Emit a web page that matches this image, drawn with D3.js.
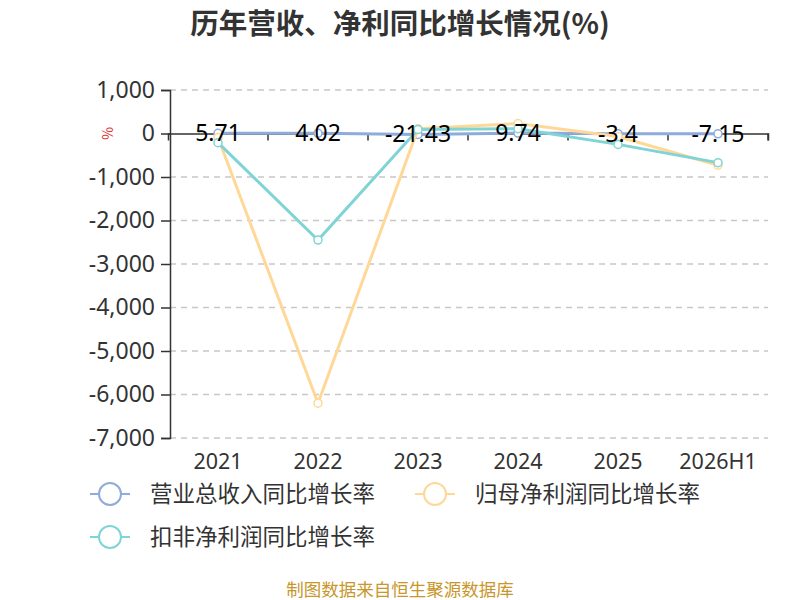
<!DOCTYPE html>
<html>
<head>
<meta charset="utf-8">
<script src="https://cdn.jsdelivr.net/npm/d3@7"></script>
<style>
body { margin: 0; background: #fff; }
text { font-family: "Noto Sans CJK SC", "Noto Sans", sans-serif; }
</style>
</head>
<body>
<svg id="chart"></svg>
<script>
var years = ["2021", "2022", "2023", "2024", "2025", "2026H1"]
var revenueGrowth = [5.71, 4.02, -21.43, 9.74, -3.4, -7.15]
var parentProfitGrowth = [-90, -6200, 110, 230, -70, -730]
var deductedProfitGrowth = [-210, -2450, 90, 110, -250, -670]
var yTicks = [1000, 0, -1000, -2000, -3000, -4000, -5000, -6000, -7000]
var seriesNames = ["营业总收入同比增长率", "归母净利润同比增长率", "扣非净利润同比增长率"]
var seriesColors = ["#8eabdb", "#ffd898", "#80d4d5"]

var screen = {width: 800, height: 600}
var margins = {left: 170, right: 32, top: 90, bottom: 162}

var graph = {
    width: screen.width - margins.left - margins.right,
    height: screen.height - margins.top - margins.bottom
}

var svg = d3.select("#chart")
    .attr("width", screen.width)
    .attr("height", screen.height)

var xScale = d3.scaleBand()
    .domain(years)
    .range([margins.left - 2, margins.left + graph.width])

var yScale = d3.scaleLinear()
    .domain([-7000, 1000])
    .range([margins.top + graph.height, margins.top])

var commaFormat = d3.format(",")

//title
svg.append("text")
    .text("历年营收、净利同比增长情况(%)")
    .attr("x", 400)
    .attr("y", 34)
    .attr("text-anchor", "middle")
    .attr("font-size", 28.5)
    .attr("font-weight", "bold")
    .attr("fill", "#333")

//grid
svg.append("g")
    .selectAll("line")
    .data(yTicks.filter(function(d) { return d != 0 }))
    .enter()
    .append("line")
    .attr("x1", margins.left)
    .attr("x2", margins.left + graph.width)
    .attr("y1", function(d) { return yScale(d) })
    .attr("y2", function(d) { return yScale(d) })
    .attr("stroke", "#c8c8c8")
    .attr("stroke-width", 1.5)
    .attr("stroke-dasharray", "6,5")

//y axis
var yAxis = d3.axisLeft(yScale)
    .tickValues(yTicks)
    .tickFormat(function(d) { return commaFormat(d).replace("\u2212", "-") })
    .tickSize(9)
    .tickPadding(6)

var yG = svg.append("g")
    .attr("transform", "translate(" + margins.left + ",0)")
    .call(yAxis)
yG.select(".domain").attr("stroke", "#333").attr("stroke-width", 1.5)
yG.selectAll(".tick line").attr("stroke", "#333").attr("stroke-width", 1.5)
yG.selectAll("text")
    .attr("font-size", 23)
    .attr("fill", "#333")
    .style("font-family", "'Noto Sans', sans-serif")

//axis name
svg.append("text")
    .text("%")
    .attr("transform", "translate(102," + yScale(0) + ") rotate(90)")
    .attr("text-anchor", "middle")
    .attr("font-size", 14)
    .attr("fill", "#e03030")

//x axis on zero line
var xAxis = d3.axisBottom(xScale)
    .tickSize(7)
    .tickFormat("")

var xG = svg.append("g")
    .attr("transform", "translate(0," + yScale(0) + ")")
    .call(xAxis)
xG.select(".domain").attr("stroke", "#333").attr("stroke-width", 1.5)
xG.selectAll(".tick line")
    .attr("stroke", "#333")
    .attr("stroke-width", 1.5)
    .attr("transform", function() { return "translate(" + (xScale.bandwidth() / 2) + ",0)" })

//x labels at bottom
svg.append("g")
    .selectAll("text")
    .data(years)
    .enter()
    .append("text")
    .text(function(d) { return d })
    .attr("x", function(d) { return xScale(d) + xScale.bandwidth() / 2 })
    .attr("y", 469)
    .attr("text-anchor", "middle")
    .attr("font-size", 21.5)
    .attr("fill", "#333")
    .style("font-family", "'Noto Sans', sans-serif")

//lines
var allSeries = [revenueGrowth, parentProfitGrowth, deductedProfitGrowth]

var line = d3.line()
    .x(function(d, i) { return xScale(years[i]) + xScale.bandwidth() / 2 })
    .y(function(d) { return yScale(d) })

allSeries.forEach(function(values, s) {
    var g = svg.append("g")
    g.append("path")
        .datum(values)
        .attr("d", line)
        .attr("fill", "none")
        .attr("stroke", seriesColors[s])
        .attr("stroke-width", 3)
    g.selectAll("circle")
        .data(values)
        .enter()
        .append("circle")
        .attr("cx", function(d, i) { return xScale(years[i]) + xScale.bandwidth() / 2 })
        .attr("cy", function(d) { return yScale(d) })
        .attr("r", 4)
        .attr("fill", "#fff")
        .attr("stroke", seriesColors[s])
        .attr("stroke-width", 1.5)
})

//revenue labels
svg.append("g")
    .selectAll("text")
    .data(revenueGrowth)
    .enter()
    .append("text")
    .text(function(d) { return d })
    .attr("x", function(d, i) { return xScale(years[i]) + xScale.bandwidth() / 2 })
    .attr("y", function(d) { return yScale(d) + 8 })
    .attr("text-anchor", "middle")
    .attr("font-size", 23)
    .attr("fill", "#000")
    .style("font-family", "'Noto Sans', sans-serif")

//legend
var legendPos = [{x: 90, y: 494}, {x: 415, y: 494}, {x: 90, y: 537}]

var legend = svg.append("g")
seriesNames.forEach(function(name, s) {
    var p = legendPos[s]
    legend.append("line")
        .attr("x1", p.x)
        .attr("x2", p.x + 40)
        .attr("y1", p.y)
        .attr("y2", p.y)
        .attr("stroke", seriesColors[s])
        .attr("stroke-width", 2)
    legend.append("circle")
        .attr("cx", p.x + 20)
        .attr("cy", p.y)
        .attr("r", 11)
        .attr("fill", "#fff")
        .attr("stroke", seriesColors[s])
        .attr("stroke-width", 2)
    legend.append("text")
        .text(name)
        .attr("x", p.x + 60)
        .attr("y", p.y + 8)
        .attr("font-size", 22.5)
        .attr("fill", "#333")
})

//footer
svg.append("text")
    .text("制图数据来自恒生聚源数据库")
    .attr("x", 400)
    .attr("y", 596)
    .attr("text-anchor", "middle")
    .attr("font-size", 17.5)
    .attr("fill", "#c8962a")
</script>
</body>
</html>
